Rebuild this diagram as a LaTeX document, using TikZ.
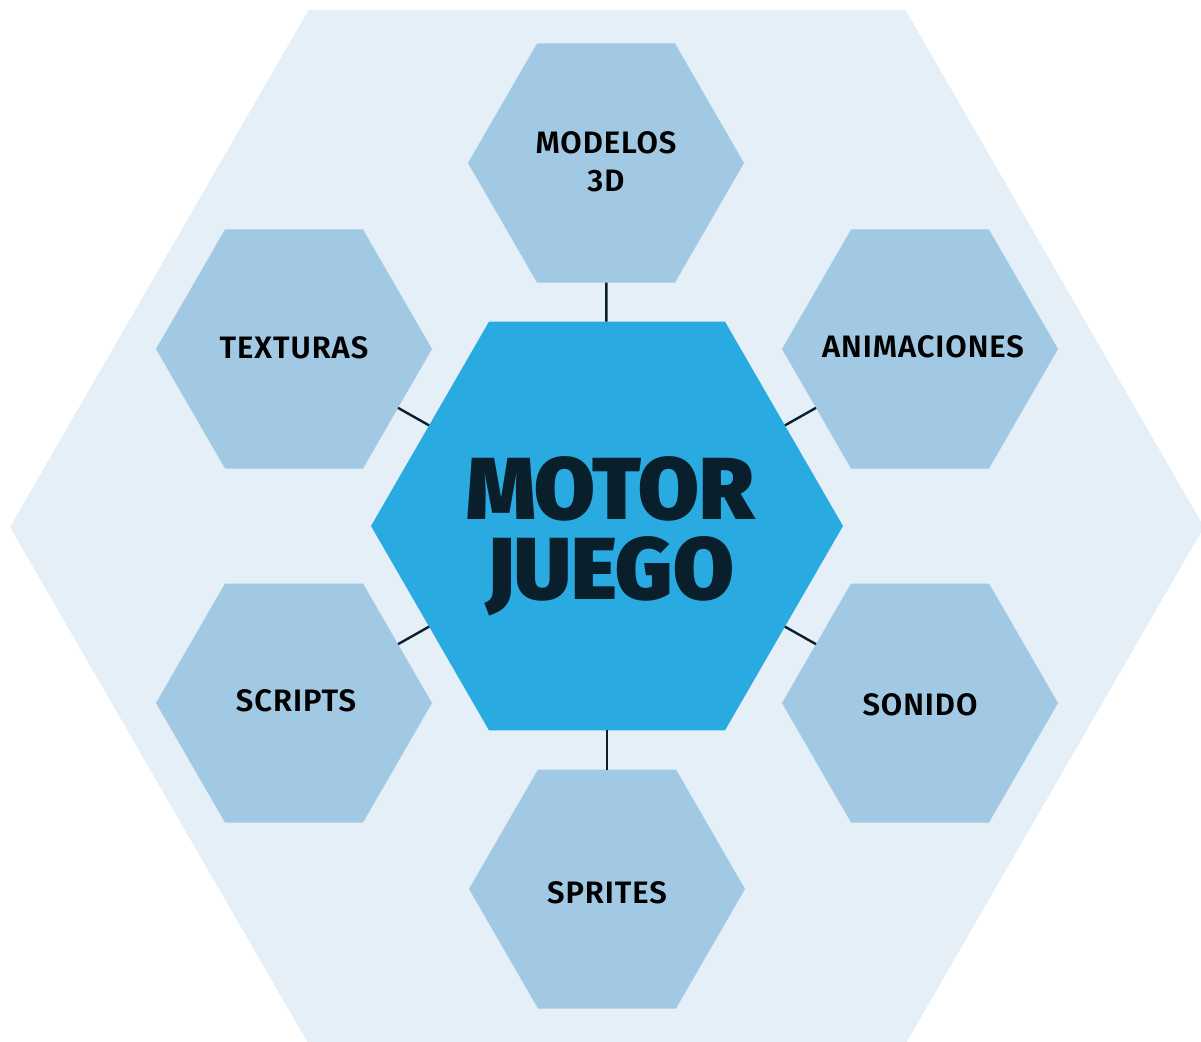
\documentclass[tikz,border=0pt]{standalone}
\usepackage{fontspec}
\setmainfont{Fira Sans}
\newfontfamily\heavyfont{Fira Sans Black}
\newfontfamily\labelfont[LetterSpace=3]{Fira Sans SemiBold}
\usetikzlibrary{shapes.geometric}
\definecolor{bghex}{HTML}{E4EFF7}
\definecolor{smallhex}{HTML}{A2C9E4}
\definecolor{mainhex}{HTML}{29ABE2}
\definecolor{ink}{HTML}{0A1F2C}
\tikzset{
  hexa/.style={regular polygon, regular polygon sides=6, inner sep=0pt, outer sep=0pt, draw=none},
  satellite/.style={hexa, fill=smallhex, minimum size=138pt},
  sattext/.style={font=\labelfont\fontsize{15.5}{19}\selectfont, text=black, align=center, inner sep=0pt},
  hub/.style={hexa, fill=mainhex, minimum size=236pt},
  hubtext/.style={font=\heavyfont\fontsize{44}{40}\selectfont, text=ink, align=center, inner sep=0pt},
  backhex/.style={hexa, fill=bghex, minimum size=597pt},
  link/.style={draw=ink, line width=1.2pt}
}
\begin{document}
\begin{tikzpicture}[x=0.5pt,y=-0.5pt]
\useasboundingbox (0,0) rectangle (1201,1041);
\clip (0,0) rectangle (1201,1041);
\node[backhex] (bg) at (607,527) {};
\node[hub] (motor) at (607,526) {};
\node[hubtext] (motortext) at (610,536) {MOTOR\\JUEGO};
\node[satellite] (modelos) at (606,163) {};
\node[satellite] (texturas) at (294,349) {};
\node[satellite] (animaciones) at (920,349) {};
\node[satellite] (scripts) at (294,703) {};
\node[satellite] (sonido) at (920,703) {};
\node[satellite] (sprites) at (607,889) {};
\node[sattext] (modelostext) at (606,162) {MODELOS\\3D};
\node[sattext] (texturastext) at (294,348) {TEXTURAS};
\node[sattext] (animacionestext) at (923,347) {ANIMACIONES};
\node[sattext] (scriptstext) at (296,701) {SCRIPTS};
\node[sattext] (sonidotext) at (920,705) {SONIDO};
\node[sattext] (spritestext) at (607,893) {SPRITES};
\draw[link] (modelos) -- (motor);
\draw[link] (texturas) -- (motor);
\draw[link] (animaciones) -- (motor);
\draw[link] (scripts) -- (motor);
\draw[link] (sonido) -- (motor);
\draw[link] (sprites) -- (motor);
\end{tikzpicture}
\end{document}
